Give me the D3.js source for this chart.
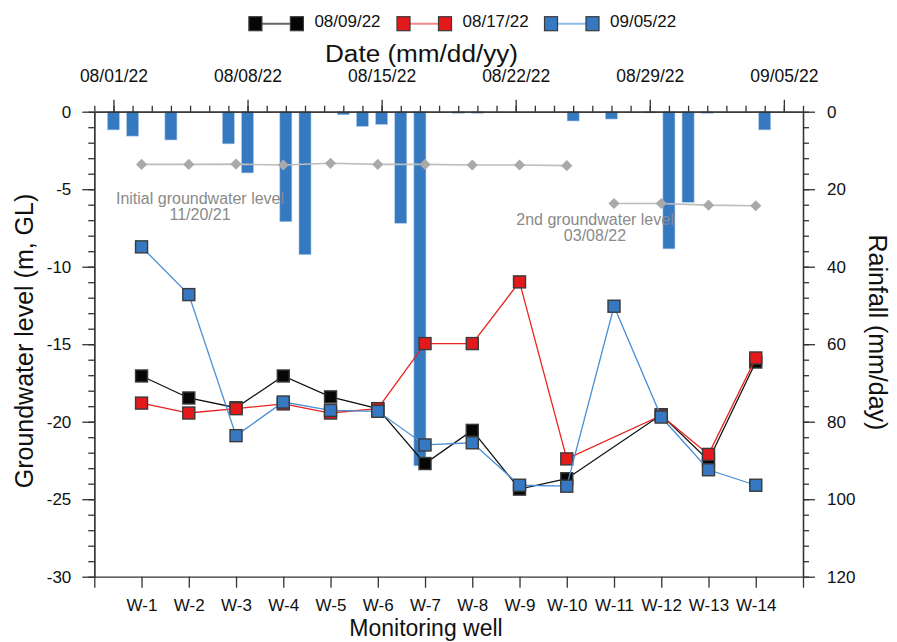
<!DOCTYPE html>
<html>
<head>
<meta charset="utf-8">
<script src="https://cdn.jsdelivr.net/npm/d3@7"></script>
<style>
  body { margin: 0; background: #fff; }
  svg text { font-family: "Liberation Sans", Arial, sans-serif; fill: #111; }
  .axis path, .axis line { stroke: #333; stroke-width: 1.3; }
  .axis text { font-size: 17px; fill: #111; }
  .note { font-size: 16px; fill: #8a8a8a; text-anchor: middle; }
</style>
</head>
<body>
<div id="chart"></div>
<script>
// data
const wells = ["W-1", "W-2", "W-3", "W-4", "W-5", "W-6", "W-7", "W-8", "W-9", "W-10", "W-11", "W-12", "W-13", "W-14"];
const level0809 = [-17.05, -18.47, -19.1, -17.05, -18.4, -19.16, -22.7, -20.56, -24.35, -23.68, null, -19.55, -22.5, -16.15];
const level0817 = [-18.8, -19.44, -19.16, -18.85, -19.44, -19.16, -14.96, -14.96, -10.98, -22.4, null, -19.6, -22.11, -15.89];
const level0905 = [-8.72, -11.8, -20.9, -18.73, -19.27, -19.33, -21.5, -21.36, -24.1, -24.16, -12.55, -19.7, -23.1, -24.1];

const initialWells = ["W-1", "W-2", "W-3", "W-4", "W-5", "W-6", "W-7", "W-8", "W-9", "W-10"];
const initialLevel = [-3.4, -3.4, -3.38, -3.44, -3.33, -3.4, -3.4, -3.44, -3.44, -3.48];
const secondWells = ["W-11", "W-12", "W-13", "W-14"];
const secondLevel = [-5.92, -5.92, -6.03, -6.07];

const rainDates = ["08/01/22", "08/02/22", "08/04/22", "08/07/22", "08/08/22", "08/10/22", "08/11/22",
  "08/13/22", "08/14/22", "08/15/22", "08/16/22", "08/17/22", "08/19/22", "08/20/22", "08/25/22",
  "08/27/22", "08/29/22", "08/30/22", "08/31/22", "09/01/22", "09/04/22"];
const rainValues = [4.7, 6.3, 7.3, 8.3, 15.8, 28.4, 36.9, 0.8, 3.8, 3.3, 28.8, 91.4, 0.4, 0.4, 2.4,
  1.9, 0.3, 35.4, 23.4, 0.4, 4.7];

const levelTicks = [0, -5, -10, -15, -20, -25, -30];
const rainTicks = [0, 20, 40, 60, 80, 100, 120];
const seriesNames = ["08/09/22", "08/17/22", "09/05/22"];

let width = 897;
let height = 642;
let plotL = 94.3, plotR = 803, plotT = 111.7, plotB = 576.7;

let svg = d3.select("#chart").append("svg")
  .attr("width", width)
  .attr("height", height);

let parseDate = d3.utcParse("%m/%d/%y");

let x = d3.scaleLinear().domain([0, 15]).range([plotL, plotR]);
let wellX = w => x(wells.indexOf(w) + 1);
let t = d3.scaleUtc().domain([parseDate("07/31/22"), parseDate("09/06/22")]).range([plotL, plotR]);
let y = d3.scaleLinear().domain([-30, 0]).range([plotB, plotT]);
let r = d3.scaleLinear().domain([0, 120]).range([plotT, plotB]);

// rainfall bars hanging from the top
let dayW = t(parseDate("08/02/22")) - t(parseDate("08/01/22"));
let barW = dayW * 0.63;
svg.append("g").selectAll("rect")
  .data(rainDates.map((d, i) => ({date: parseDate(d), v: rainValues[i]})))
  .join("rect")
  .attr("x", d => t(d.date) - barW / 2)
  .attr("y", r(0))
  .attr("width", barW)
  .attr("height", d => r(d.v) - r(0))
  .attr("fill", "#3579c1")
  .attr("stroke", "#b5cde9")
  .attr("stroke-width", 0.6);

// reference groundwater levels (gray diamonds)
let line = d3.line().x(d => d.x).y(d => d.y);
let diamond = d3.symbol(d3.symbolSquare, 62)();
function drawRef(ws, vals) {
  let pts = ws.map((w, i) => ({x: wellX(w), y: y(vals[i])}));
  svg.append("path")
    .datum(pts)
    .attr("d", line)
    .attr("fill", "none")
    .attr("stroke", "#bdbdbd")
    .attr("stroke-width", 1.6);
  svg.append("g").selectAll("path")
    .data(pts)
    .join("path")
    .attr("d", diamond)
    .attr("transform", d => `translate(${d.x},${d.y}) rotate(45)`)
    .attr("fill", "#a9a9a9");
}
drawRef(initialWells, initialLevel);
drawRef(secondWells, secondLevel);

svg.append("text").attr("class", "note").attr("x", 200).attr("y", 204).text("Initial groundwater level");
svg.append("text").attr("class", "note").attr("x", 200).attr("y", 220).text("11/20/21");
svg.append("text").attr("class", "note").attr("x", 595).attr("y", 225).text("2nd groundwater level");
svg.append("text").attr("class", "note").attr("x", 595).attr("y", 241).text("03/08/22");

// groundwater series
let series = [
  {name: seriesNames[0], vals: level0809, fill: "#060606", stroke: "#111", legendLine: "#666"},
  {name: seriesNames[1], vals: level0817, fill: "#e3191c", stroke: "#e8231f", legendLine: "#f08a8a"},
  {name: seriesNames[2], vals: level0905, fill: "#3679c2", stroke: "#4a8fd6", legendLine: "#93bbe6"}
];
let sq = 12;

series.forEach(s => {
  let pts = wells.map((w, i) => ({x: wellX(w), v: s.vals[i]}))
    .filter(d => d.v !== null)
    .map(d => ({x: d.x, y: y(d.v)}));
  svg.append("path")
    .datum(pts)
    .attr("d", line)
    .attr("fill", "none")
    .attr("stroke", s.stroke)
    .attr("stroke-width", 1.3);
  svg.append("g").selectAll("rect")
    .data(pts)
    .join("rect")
    .attr("x", d => d.x - sq / 2)
    .attr("y", d => d.y - sq / 2)
    .attr("width", sq)
    .attr("height", sq)
    .attr("fill", s.fill)
    .attr("stroke", "#3a3a3a")
    .attr("stroke-width", 1.4);
});

// axes (plain hyphen minus, as in the figure)
let plain = d => String(d);
svg.append("g").attr("class", "axis")
  .attr("transform", `translate(${plotL},0)`)
  .call(d3.axisLeft(y).tickValues(levelTicks).tickFormat(plain)
    .tickSize(12).tickSizeOuter(0).tickPadding(11));
svg.append("g").attr("class", "axis")
  .attr("transform", `translate(${plotL},0)`)
  .call(d3.axisLeft(y).tickValues(d3.range(-30, 0.5, 1)).tickSize(6).tickFormat("").tickSizeOuter(0));

svg.append("g").attr("class", "axis")
  .attr("transform", `translate(${plotR},0)`)
  .call(d3.axisRight(r).tickValues(rainTicks).tickFormat(plain)
    .tickSize(12).tickSizeOuter(0).tickPadding(12));
svg.append("g").attr("class", "axis")
  .attr("transform", `translate(${plotR},0)`)
  .call(d3.axisRight(r).tickValues(d3.range(0, 121, 4)).tickSize(6).tickFormat("").tickSizeOuter(0));

svg.append("g").attr("class", "axis")
  .attr("transform", `translate(0,${plotT})`)
  .call(d3.axisTop(t).ticks(d3.utcMonday.every(1)).tickFormat(d3.utcFormat("%m/%d/%y"))
    .tickSize(12).tickSizeOuter(0).tickPadding(18))
  .selectAll("text").style("font-size", "17.5px");
svg.append("g").attr("class", "axis")
  .attr("transform", `translate(0,${plotT})`)
  .call(d3.axisTop(t).ticks(d3.utcDay.every(1)).tickFormat("").tickSize(6).tickSizeOuter(0));

svg.append("g").attr("class", "axis")
  .attr("transform", `translate(0,${plotB})`)
  .call(d3.axisBottom(x).tickValues(d3.range(0, 16))
    .tickFormat(i => (i >= 1 && i <= wells.length) ? wells[i - 1] : "")
    .tickSize(11).tickSizeOuter(0).tickPadding(11));

// axis titles
svg.append("text")
  .attr("x", 325).attr("y", 62)
  .attr("textLength", 193).attr("lengthAdjust", "spacingAndGlyphs")
  .style("font-size", "23px")
  .text("Date (mm/dd/yy)");

svg.append("text")
  .attr("transform", "translate(33,341) rotate(-90)")
  .attr("text-anchor", "middle")
  .style("font-size", "25px")
  .text("Groundwater level (m, GL)");

svg.append("text")
  .attr("transform", "translate(869,332.5) rotate(90)")
  .attr("text-anchor", "middle")
  .style("font-size", "25px")
  .text("Rainfall (mm/day)");

svg.append("text")
  .attr("x", 426).attr("y", 636)
  .attr("text-anchor", "middle")
  .style("font-size", "23px")
  .text("Monitoring well");

// legend
let legendX = [255.4, 403.5, 551];
series.forEach((s, i) => {
  let g = svg.append("g").attr("transform", `translate(${legendX[i]},23.7)`);
  g.append("line")
    .attr("x1", 0).attr("x2", 41.5)
    .attr("stroke", s.legendLine).attr("stroke-width", 2);
  [0, 41.5].forEach(cx => {
    g.append("rect")
      .attr("x", cx - 6.5).attr("y", -7)
      .attr("width", 13).attr("height", 14)
      .attr("fill", s.fill)
      .attr("stroke", "#3a3a3a").attr("stroke-width", 1.2);
  });
  g.append("text")
    .attr("x", 59).attr("y", 3.6)
    .style("font-size", "17px")
    .text(s.name);
});
</script>
</body>
</html>
